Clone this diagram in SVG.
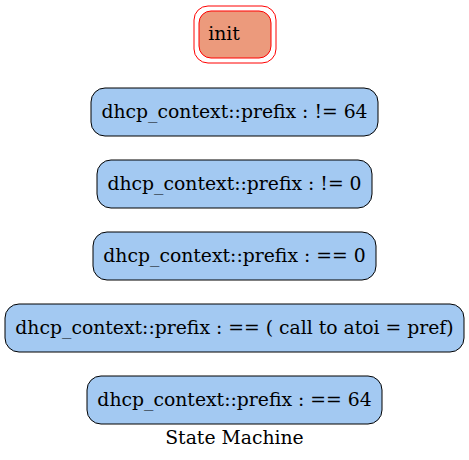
<svg xmlns="http://www.w3.org/2000/svg" width="469" height="460" viewBox="0 0 469 460">
<style>
.st{fill:#a3c9f2;stroke:#000;stroke-width:1}
.init{fill:#ec9a7c;stroke:#ff0000;stroke-width:1}
.outer{fill:none;stroke:#ff0000;stroke-width:1}
</style>
<rect width="469" height="460" fill="#fff"/>
<g font-family="DejaVu Serif, serif" font-size="18.8" text-anchor="middle" fill="#000">
<g id="init">
<rect class="outer" x="194" y="6" width="82" height="57" rx="14"/>
<rect class="init" x="199" y="11" width="72" height="47" rx="12"/>
<text x="224" y="40">init</text>
</g>
<g id="s1">
<rect class="st" x="91" y="88" width="287" height="48" rx="14"/>
<text x="234.5" y="118">dhcp_context::prefix : != 64</text>
</g>
<g id="s2">
<rect class="st" x="97" y="160" width="275" height="48" rx="14"/>
<text x="234.5" y="190">dhcp_context::prefix : != 0</text>
</g>
<g id="s3">
<rect class="st" x="93" y="232" width="283" height="48" rx="14"/>
<text x="234.5" y="262">dhcp_context::prefix : == 0</text>
</g>
<g id="s4">
<rect class="st" x="5" y="304" width="459" height="48" rx="14"/>
<text x="234.5" y="334">dhcp_context::prefix : == ( call to atoi = pref)</text>
</g>
<g id="s5">
<rect class="st" x="87" y="376" width="295" height="48" rx="14"/>
<text x="234.5" y="406">dhcp_context::prefix : == 64</text>
</g>
<g id="connectors"></g>
<text x="234.5" y="444">State Machine</text>
</g>
</svg>
